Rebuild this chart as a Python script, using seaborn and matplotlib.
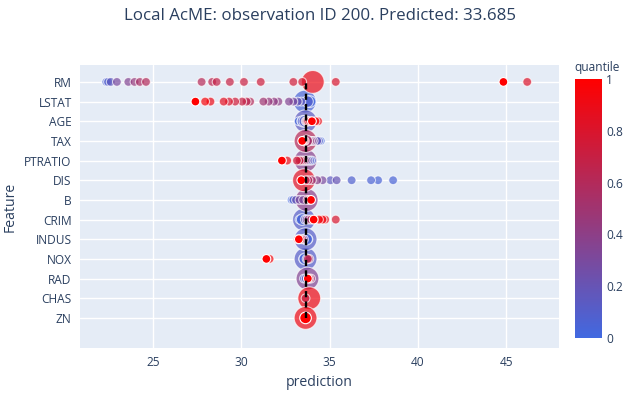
import numpy as np
import pandas as pd
import seaborn as sns
import matplotlib
matplotlib.use('Agg')
import matplotlib.pyplot as plt
from matplotlib.colors import LinearSegmentedColormap, Normalize
from matplotlib.cm import ScalarMappable

# ---- data ----
PREDICTED = 33.685
features = ['RM', 'LSTAT', 'AGE', 'TAX', 'PTRATIO', 'DIS', 'B',
            'CRIM', 'INDUS', 'NOX', 'RAD', 'CHAS', 'ZN']

rm_pred = [22.35, 22.45, 22.6, 22.95, 23.6, 23.95, 24.25, 24.6, 27.75, 28.35,
           28.6, 29.35, 30.15, 31.1, 32.95, 33.45, 34.05, 35.35, 46.2, 44.85]
rm_q = [0.05, 0.1, 0.15, 0.3, 0.35, 0.45, 0.55, 0.6, 0.62, 0.65,
        0.68, 0.7, 0.72, 0.74, 0.76, 0.78, 0.9, 0.8, 0.82, 1.0]

lstat_pred = [27.4, 27.95, 28.25, 29.0, 29.3, 29.65, 30.05, 30.3, 30.5, 31.25,
              31.55, 31.85, 32.1, 32.7, 32.95, 33.2, 33.4, 33.6, 33.75, 33.9]
lstat_q = [1.0, 0.95, 0.9, 0.85, 0.8, 0.75, 0.7, 0.65, 0.6, 0.5,
           0.45, 0.42, 0.4, 0.35, 0.3, 0.2, 0.15, 0.05, 0.1, 0.0]

age_pred = [33.25, 33.4, 33.5, 33.6, 33.64, 33.65, 33.7, 33.75, 33.8, 33.9, 34.0, 34.2, 34.35]
age_q = [0.0, 0.05, 0.1, 0.12, 0.15, 0.4, 0.6, 0.7, 0.8, 0.85, 1.0, 0.95, 0.9]

tax_pred = [34.5, 34.4, 34.3, 34.1, 34.0, 33.9, 33.8, 33.7, 33.64, 33.6, 33.55, 33.5, 33.45]
tax_q = [0.0, 0.1, 0.2, 0.3, 0.4, 0.45, 0.5, 0.55, 0.62, 0.75, 0.8, 0.9, 1.0]

ptratio_pred = [34.0, 33.9, 33.8, 33.7, 33.64, 33.6, 33.5, 33.4, 33.3, 33.15, 32.6, 32.3]
ptratio_q = [0.0, 0.1, 0.2, 0.25, 0.38, 0.5, 0.55, 0.65, 0.7, 0.75, 0.9, 1.0]

dis_pred = [38.6, 37.75, 37.35, 36.25, 35.4, 35.05, 34.6, 34.3, 34.0, 33.8, 33.65, 33.55, 33.4]
dis_q = [0.05, 0.05, 0.06, 0.08, 0.2, 0.15, 0.3, 0.4, 0.5, 0.6, 0.7, 0.85, 1.0]

b_pred = [32.85, 32.95, 33.1, 33.3, 33.5, 33.7, 33.75, 33.85, 33.95]
b_q = [0.0, 0.1, 0.2, 0.3, 0.32, 0.4, 0.6, 0.8, 1.0]

crim_pred = [33.3, 33.45, 33.55, 33.6, 33.7, 33.8, 33.95, 34.1, 34.4, 34.6, 34.75, 35.35]
crim_q = [0.0, 0.05, 0.12, 0.2, 0.3, 0.5, 0.6, 1.0, 0.95, 0.92, 0.9, 0.8]

indus_pred = [33.2, 33.26, 33.35, 33.45, 33.55, 33.64, 33.7, 33.8]
indus_q = [0.85, 1.0, 0.8, 0.6, 0.3, 0.12, 0.05, 0.0]

nox_pred = [31.42, 31.6, 33.5, 33.6, 33.64, 33.7, 33.77, 33.85]
nox_q = [1.0, 0.95, 0.0, 0.05, 0.12, 0.2, 0.7, 0.5]

rad_pred = [33.55, 33.65, 33.75, 33.77, 33.85, 33.95]
rad_q = [0.0, 0.2, 0.35, 1.0, 0.7, 0.5]

chas_pred = [33.64, 33.85]
chas_q = [0.7, 0.92]

zn_pred = [33.64, 33.64]
zn_q = [0.92, 1.0]

# quantile of the observation itself (largest marker)
obs_q = [0.9, 0.05, 0.15, 0.62, 0.38, 0.85, 0.4, 0.12, 0.12, 0.12, 0.35, 0.92, 0.92]

all_pred = [rm_pred, lstat_pred, age_pred, tax_pred, ptratio_pred, dis_pred, b_pred,
            crim_pred, indus_pred, nox_pred, rad_pred, chas_pred, zn_pred]
all_q = [rm_q, lstat_q, age_q, tax_q, ptratio_q, dis_q, b_q,
         crim_q, indus_q, nox_q, rad_q, chas_q, zn_q]

rows = []
n = len(features)
for i, feat in enumerate(features):
    for p, q in zip(all_pred[i], all_q[i]):
        d = abs(q - obs_q[i])
        kind = 2 if d < 1e-9 else (1 if d <= 0.08 else 0)
        rows.append({'feature': feat, 'row': n - 1 - i, 'prediction': p,
                     'quantile': q, 'kind': kind})
df = pd.DataFrame(rows)

# ---- style ----
sns.set_theme(style='white', rc={
    'axes.facecolor': '#E5ECF6',
    'axes.edgecolor': '#E5ECF6',
    'grid.color': 'white',
    'grid.linewidth': 1.0,
})
plt.rcParams['font.family'] = ['Open Sans', 'DejaVu Sans']
TXT = '#2a3f5f'

cmap = LinearSegmentedColormap.from_list('q', ['#4169E1', '#FF0000'])
norm = Normalize(0, 1)

fig = plt.figure(figsize=(6.23, 3.93), dpi=100)
ax = fig.add_axes([80 / 623, 1 - 348 / 393, 479 / 623, 283 / 393])

sizes = {0: 40, 1: 70, 2: 270}
layers = [df[df['kind'] == 2], df[(df['kind'] < 2) & (df['quantile'] < 1)],
          df[(df['kind'] < 2) & (df['quantile'] >= 1)]]
alphas = [0.7, 0.7, 1.0]
for part, a in zip(layers, alphas):
    part = part.sort_values('quantile')
    sns.scatterplot(data=part, x='prediction', y='row', hue='quantile',
                    palette=cmap, hue_norm=norm, size='kind', sizes=sizes,
                    size_norm=None, alpha=a, edgecolor='white', linewidth=0.8,
                    legend=False, ax=ax, zorder=3)

ax.plot([PREDICTED, PREDICTED], [0, n - 1], color='black', lw=1.7,
        dashes=(2.6, 1.8), zorder=5)

ax.set_xlim(20.86, 48.0)
ax.set_ylim(-1.53, n - 1 + 0.86)
ax.set_xticks([25, 30, 35, 40, 45])
ax.set_yticks(range(n))
ax.set_yticklabels(features[::-1])
ax.grid(True, zorder=0)
ax.set_axisbelow(True)
for s in ax.spines.values():
    s.set_visible(False)
ax.tick_params(axis='both', length=0, labelsize=8.6, colors=TXT, pad=6)
ax.set_xlabel('prediction', fontsize=10.1, color=TXT)
ax.set_ylabel('Feature', fontsize=10.1, color=TXT)
ax.xaxis.set_label_coords(0.5, (348 - 383) / 283)
ax.yaxis.set_label_coords((10 - 80) / 479, 0.5)
ax.xaxis.label.set_va('center')
ax.yaxis.label.set_va('center')

fig.suptitle('Local AcME: observation ID 200. Predicted: 33.685',
             x=320 / 623, y=1 - 16 / 393, va='center', fontsize=12.2, color=TXT)

cax = fig.add_axes([575 / 623, 1 - 338 / 393, 27 / 623, 259 / 393])
cb = fig.colorbar(ScalarMappable(norm=norm, cmap=cmap), cax=cax)
cb.outline.set_visible(False)
cb.set_ticks([0, 0.2, 0.4, 0.6, 0.8, 1])
cb.set_ticklabels(['0', '0.2', '0.4', '0.6', '0.8', '1'])
cax.tick_params(length=0, labelsize=8.6, colors=TXT, pad=3)
fig.text(574 / 623, 1 - 68 / 393, 'quantile', fontsize=8.6, color=TXT,
         ha='left', va='center')

fig.savefig('out.png', dpi=100)
